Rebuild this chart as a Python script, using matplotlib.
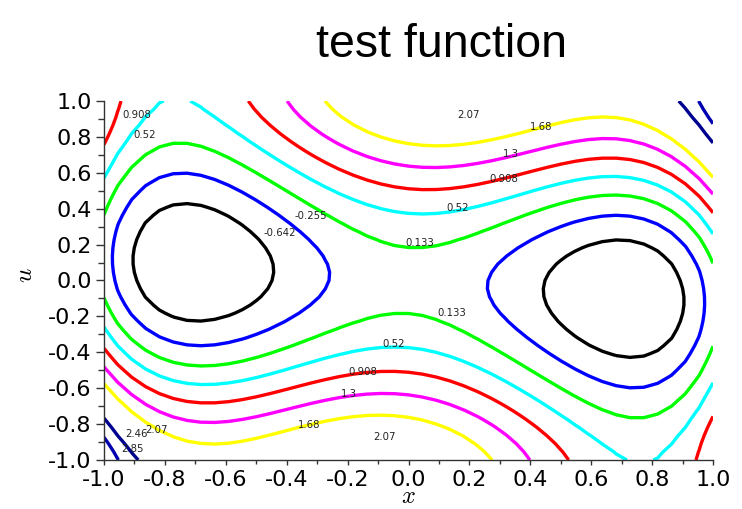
import numpy as np
import matplotlib
matplotlib.use("Agg")
import matplotlib.pyplot as plt
from matplotlib.ticker import MultipleLocator

plt.rcParams['axes.unicode_minus'] = False
plt.rcParams['mathtext.fontset'] = 'cm'

# ---- data ----
title = "test function"
x_range = [-1.0, 1.0]
u_range = [-1.0, 1.0]
n_grid = 45

# contour levels (Scilab auto levels) and their colours
levels = [-0.642, -0.255, 0.133, 0.52, 0.908, 1.3, 1.68, 2.07, 2.46, 2.85]
level_colors = ['#000000', '#0000ff', '#00ff00', '#00ffff', '#ff0000',
                '#ff00ff', '#ffff00', '#ffffff', '#000090', '#0000b0']

# contour label texts and their positions (data coords, left edge)
label_text = ['0.908', '0.52', '-0.255', '-0.642', '2.07', '1.68', '1.3',
              '0.908', '0.52', '0.133', '0.133', '0.52', '0.908', '1.3',
              '1.68', '2.07', '2.46', '2.07', '2.85']
label_x = [-0.941, -0.905, -0.373, -0.475, 0.159, 0.399, 0.310,
           0.264, 0.126, -0.011, 0.094, -0.087, -0.199, -0.222,
           -0.363, -0.117, -0.931, -0.865, -0.944]
label_y = [0.922, 0.811, 0.359, 0.265, 0.922, 0.855, 0.705,
           0.565, 0.404, 0.209, -0.181, -0.354, -0.510, -0.632,
           -0.805, -0.872, -0.855, -0.833, -0.939]

tick_vals = [-1.0, -0.8, -0.6, -0.4, -0.2, 0.0, 0.2, 0.4, 0.6, 0.8, 1.0]
tick_labels = ['-1.0', '-0.8', '-0.6', '-0.4', '-0.2', '0.0', '0.2', '0.4', '0.6', '0.8', '1.0']


def camel(x, u):
    # six-hump camel-back test function
    return (4 - 2.1 * u**2 + u**4 / 3) * u**2 + x * u + (-4 + 4 * x**2) * x**2


xs = np.linspace(x_range[0], x_range[1], n_grid)
us = np.linspace(u_range[0], u_range[1], n_grid)
X, U = np.meshgrid(xs, us)
Z = camel(X, U)

fig = plt.figure(figsize=(7.42, 5.09), dpi=100)
ax = fig.add_axes([104 / 742, 1 - 460 / 509, 609 / 742, 359 / 509])

ax.contour(X, U, Z, levels=levels, colors=level_colors, linewidths=2.4)

for t, lx, ly in zip(label_text, label_x, label_y):
    ax.text(lx, ly, t, fontsize=7.3, color='#222222', ha='left', va='center',
            family='DejaVu Sans')

ax.set_xlim(x_range)
ax.set_ylim(u_range)
for s in ['top', 'right']:
    ax.spines[s].set_visible(False)
for s in ['left', 'bottom']:
    ax.spines[s].set_color('#333333')
    ax.spines[s].set_linewidth(1.0)

ax.set_xticks(tick_vals)
ax.set_xticklabels(tick_labels)
ax.set_yticks(tick_vals)
ax.set_yticklabels(tick_labels)
ax.xaxis.set_minor_locator(MultipleLocator(0.1))
ax.yaxis.set_minor_locator(MultipleLocator(0.1))
ax.tick_params(axis='y', which='major', direction='out', length=6, width=1,
               color='#333333', labelsize=16, pad=3)
ax.tick_params(axis='y', which='minor', direction='out', length=4, width=1,
               color='#333333')
ax.tick_params(axis='x', which='major', direction='out', length=3.5, width=1,
               color='#333333', labelsize=16, pad=4)
ax.tick_params(axis='x', which='minor', direction='out', length=3, width=1,
               color='#333333')
for lab in ax.get_xticklabels() + ax.get_yticklabels():
    lab.set_family('DejaVu Sans')

fig.text(441.5 / 742, 1 - 57 / 509, title, fontsize=33.5, family='Liberation Sans',
         ha='center', va='baseline')
fig.text(408 / 742, 1 - 503 / 509, r'$x$', fontsize=17.5, ha='center', va='baseline')
fig.text(25 / 742, 1 - 275 / 509, r'$u$', fontsize=18, ha='center', va='center',
         rotation=90)

fig.savefig('out.png', dpi=100)
